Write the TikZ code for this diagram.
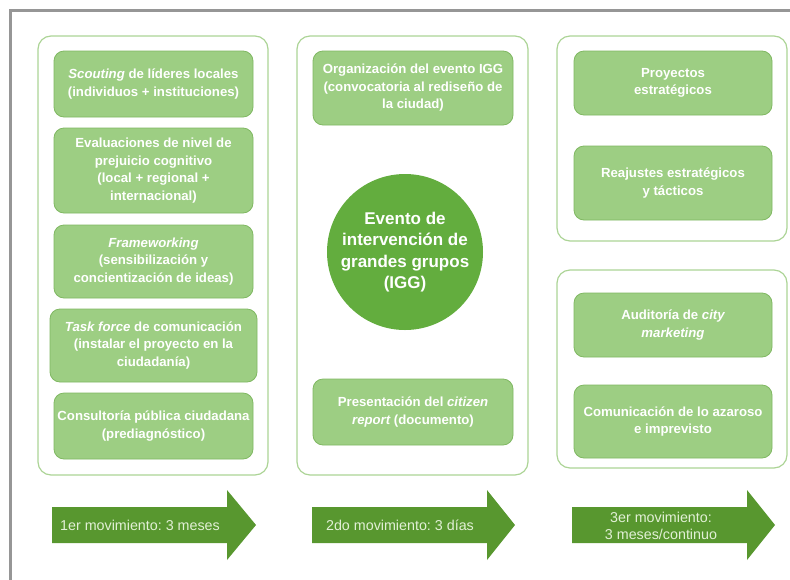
\documentclass[tikz,border=0pt]{standalone}
\usepackage{fontspec}
\setmainfont{Liberation Sans}
\frenchspacing
\definecolor{boxfill}{RGB}{157,206,131}
\definecolor{boxline}{RGB}{128,184,98}
\definecolor{outerline}{RGB}{172,212,150}
\definecolor{circfill}{RGB}{99,173,62}
\definecolor{arrowfill}{RGB}{88,151,47}
\definecolor{arrowtext}{RGB}{226,240,214}
\definecolor{framegray}{RGB}{150,150,150}
\tikzset{
  outerbox/.style={draw=outerline, line width=1.2pt, fill=white, rounded corners=13pt, inner sep=0pt},
  stepbox/.style={draw=boxline, line width=0.8pt, fill=boxfill, rounded corners=10pt, inner sep=1pt,
    text=white, font=\fontsize{13.2}{17.5}\selectfont\bfseries, align=center},
  bigcircle/.style={circle, fill=circfill, inner sep=0pt, minimum size=156pt, text=white,
    font=\fontsize{17}{21.5}\selectfont\bfseries, align=center},
  arrowlabel/.style={text=arrowtext, font=\fontsize{14.3}{17}\selectfont, align=center, inner sep=0pt},
  arrowshape/.style={fill=arrowfill}
}
\begin{document}
\begin{tikzpicture}[x=1pt,y=-1pt]
\useasboundingbox (0,0) rectangle (790,579);
% gray frame
\draw[framegray, line width=3pt] (10,585) -- (10,10) -- (795,10);

% column 1
\node[outerbox, minimum width=230pt, minimum height=439pt] (c1) at (153,255.5) {};
\node[stepbox, minimum width=199pt, minimum height=66pt] (b1) at (153.5,84) {\itshape Scouting\upshape{} de líderes locales\\(individuos + instituciones)};
\node[stepbox, minimum width=199pt, minimum height=85pt] (b2) at (153.5,170.5) {Evaluaciones de nivel de\\prejuicio cognitivo\\(local + regional +\\internacional)};
\node[stepbox, minimum width=199pt, minimum height=73pt] (b3) at (153.5,261.5) {\itshape Frameworking\upshape\\(sensibilización y\\concientización de ideas)};
\node[stepbox, minimum width=207pt, minimum height=73pt] (b4) at (153.5,345.5) {\itshape Task force\upshape{} de comunicación\\(instalar el proyecto en la\\ciudadanía)};
\node[stepbox, minimum width=199pt, minimum height=66pt] (b5) at (153.5,426) {Consultoría pública ciudadana\\(prediagnóstico)};

% column 2
\node[outerbox, minimum width=231pt, minimum height=439pt] (c2) at (412.5,255.5) {};
\node[stepbox, minimum width=200pt, minimum height=74pt] (t1) at (413,88) {Organización del evento IGG\\(convocatoria al rediseño de\\la ciudad)};
\node[bigcircle] (igg) at (405,252) {Evento de\\intervención de\\grandes grupos\\(IGG)};
\node[stepbox, minimum width=200pt, minimum height=66pt] (t2) at (413,412) {Presentación del \itshape citizen\upshape\\\itshape report\upshape{} (documento)};

% column 3
\node[outerbox, minimum width=230pt, minimum height=205pt] (c3a) at (672,138.5) {};
\node[stepbox, minimum width=198pt, minimum height=64pt] (p1) at (673,83) {Proyectos\\estratégicos};
\node[stepbox, minimum width=198pt, minimum height=74pt] (p2) at (673,183) {Reajustes estratégicos\\y tácticos};
\node[outerbox, minimum width=230pt, minimum height=198pt] (c3b) at (672,369) {};
\node[stepbox, minimum width=198pt, minimum height=64pt] (p3) at (673,325) {Auditoría de \itshape city\upshape\\\itshape marketing};
\node[stepbox, minimum width=198pt, minimum height=73pt] (p4) at (673,421.5) {Comunicación de lo azaroso\\e imprevisto};

% arrows
\fill[arrowshape] (52,507) -- (227,507) -- (227,490) -- (256,525) -- (227,560) -- (227,543) -- (52,543) -- cycle;
\node[arrowlabel] (m1) at (140,525.5) {1er movimiento: 3 meses};
\fill[arrowshape] (312,507) -- (487,507) -- (487,490) -- (515,525) -- (487,560) -- (487,543) -- (312,543) -- cycle;
\node[arrowlabel] (m2) at (400,525.5) {2do movimiento: 3 días};
\fill[arrowshape] (572,507) -- (747,507) -- (747,490) -- (775,525) -- (747,560) -- (747,543) -- (572,543) -- cycle;
\node[arrowlabel] (m3) at (661,525.5) {3er movimiento:\\3 meses/continuo};
\end{tikzpicture}
\end{document}
